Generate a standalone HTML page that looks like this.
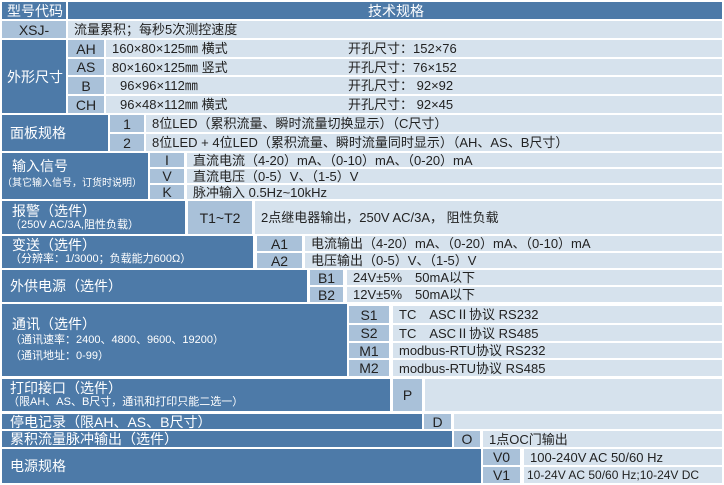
<!DOCTYPE html>
<html><head><meta charset="utf-8"><style>
body{margin:0;width:724px;height:485px;background:#fff;position:relative;overflow:hidden;font-family:"Liberation Sans","Noto Sans CJK SC",sans-serif;font-size:13px;}
div{position:absolute;box-sizing:border-box;white-space:nowrap;line-height:1;}
.d{background:#4d7aa8;color:#fff;}
.c{background:#a9c1d9;color:#222;text-align:center;font-size:14px;display:flex;align-items:center;justify-content:center;}
.t{background:#d6e2ed;color:#222;display:flex;align-items:center;padding-left:6px;}
.dl{display:flex;align-items:center;padding-left:8px;}
.s{font-size:11px;}
</style></head><body>
<div class="d dl" style="left:2px;top:2px;width:64px;height:17px;font-size:14px;padding-left:5px">型号代码</div>
<div class="d" style="left:68px;top:2px;width:654px;height:17px;font-size:14px;padding:2px 0 0 300px">技术规格</div>
<div class="c" style="left:2px;top:21px;width:64px;height:17px">XSJ-</div>
<div class="t" style="left:68px;top:21px;width:654px;height:17px">流量累积；每秒5次测控速度</div>

<div class="d dl" style="left:2px;top:40px;width:64px;height:73px;font-size:14px;padding-left:5px">外形尺寸</div>
<div class="c" style="left:68px;top:40px;width:36px;height:17px">AH</div>
<div class="t" style="left:106px;top:40px;width:616px;height:17px">160×80×125㎜ 横式<span style="position:absolute;left:242px">开孔尺寸：152×76</span></div>
<div class="c" style="left:68px;top:59px;width:36px;height:16px">AS</div>
<div class="t" style="left:106px;top:59px;width:616px;height:16px">80×160×125㎜ 竖式<span style="position:absolute;left:242px">开孔尺寸：76×152</span></div>
<div class="c" style="left:68px;top:77px;width:36px;height:17px">B</div>
<div class="t" style="left:106px;top:77px;width:616px;height:17px;padding-left:14px">96×96×112㎜<span style="position:absolute;left:242px">开孔尺寸： 92×92</span></div>
<div class="c" style="left:68px;top:96px;width:36px;height:17px">CH</div>
<div class="t" style="left:106px;top:96px;width:616px;height:17px;padding-left:14px">96×48×112㎜ 横式<span style="position:absolute;left:242px">开孔尺寸： 92×45</span></div>

<div class="d dl" style="left:2px;top:115px;width:106px;height:36px;font-size:14px">面板规格</div>
<div class="c" style="left:110px;top:115px;width:34px;height:17px">1</div>
<div class="t" style="left:146px;top:115px;width:576px;height:17px">8位LED（累积流量、瞬时流量切换显示）（C尺寸）</div>
<div class="c" style="left:110px;top:134px;width:34px;height:17px">2</div>
<div class="t" style="left:146px;top:134px;width:576px;height:17px">8位LED + 4位LED（累积流量、瞬时流量同时显示）（AH、AS、B尺寸）</div>

<div class="d" style="left:2px;top:153px;width:146px;height:46px;padding:6px 0 0 10px"><span style="font-size:14px">输入信号</span><br><span style="position:absolute;left:0;top:26px;font-size:10px">（其它输入信号，订货时说明）</span></div>
<div class="c" style="left:150px;top:153px;width:34px;height:14px">I</div>
<div class="t" style="left:187px;top:153px;width:535px;height:14px">直流电流（4-20）mA、（0-10）mA、（0-20）mA</div>
<div class="c" style="left:150px;top:169px;width:34px;height:14px">V</div>
<div class="t" style="left:187px;top:169px;width:535px;height:14px">直流电压（0-5）V、（1-5）V</div>
<div class="c" style="left:150px;top:185px;width:34px;height:14px">K</div>
<div class="t" style="left:187px;top:185px;width:535px;height:14px">脉冲输入 0.5Hz~10kHz</div>

<div class="d" style="left:2px;top:201px;width:183px;height:33px;padding:3px 0 0 10px"><span style="font-size:14px">报警（选件）</span><br><span class="s" style="position:absolute;left:8px;top:19px">（250V AC/3A,阻性负载）</span></div>
<div class="c" style="left:188px;top:201px;width:64px;height:33px">T1~T2</div>
<div class="t" style="left:255px;top:201px;width:467px;height:33px">2点继电器输出，250V AC/3A， 阻性负载</div>

<div class="d" style="left:2px;top:236px;width:251px;height:32px;padding:2px 0 0 10px"><span style="font-size:14px">变送（选件）</span><br><span class="s" style="position:absolute;left:8px;top:18px">（分辨率：1/3000；负载能力600Ω）</span></div>
<div class="c" style="left:257px;top:236px;width:45px;height:15px">A1</div>
<div class="t" style="left:305px;top:236px;width:417px;height:15px">电流输出（4-20）mA、（0-20）mA、（0-10）mA</div>
<div class="c" style="left:257px;top:253px;width:45px;height:15px">A2</div>
<div class="t" style="left:305px;top:253px;width:417px;height:15px">电压输出（0-5）V、（1-5）V</div>

<div class="d dl" style="left:2px;top:270px;width:305px;height:32px;font-size:14px">外供电源（选件）</div>
<div class="c" style="left:310px;top:270px;width:33px;height:15px">B1</div>
<div class="t" style="left:347px;top:270px;width:375px;height:15px">24V±5%　50mA以下</div>
<div class="c" style="left:310px;top:287px;width:33px;height:15px">B2</div>
<div class="t" style="left:347px;top:287px;width:375px;height:15px">12V±5%　50mA以下</div>

<div class="d" style="left:2px;top:304px;width:345px;height:72px;padding:13px 0 0 10px"><span style="font-size:14px">通讯（选件）</span><span class="s" style="position:absolute;left:8px;top:31px">（通讯速率：2400、4800、9600、19200）</span><span class="s" style="position:absolute;left:8px;top:47px">（通讯地址：0-99）</span></div>
<div class="c" style="left:349px;top:306px;width:40px;height:17px">S1</div>
<div class="t" style="left:393px;top:306px;width:329px;height:17px">TC　ASCⅡ协议 RS232</div>
<div class="c" style="left:349px;top:325px;width:40px;height:16px">S2</div>
<div class="t" style="left:393px;top:325px;width:329px;height:16px">TC　ASCⅡ协议 RS485</div>
<div class="c" style="left:349px;top:343px;width:40px;height:15px">M1</div>
<div class="t" style="left:393px;top:343px;width:329px;height:15px">modbus-RTU协议 RS232</div>
<div class="c" style="left:349px;top:360px;width:40px;height:16px">M2</div>
<div class="t" style="left:393px;top:360px;width:329px;height:16px">modbus-RTU协议 RS485</div>

<div class="d" style="left:2px;top:379px;width:388px;height:32px;padding:2px 0 0 8px"><span style="font-size:14px">打印接口（选件）</span><span class="s" style="position:absolute;left:6px;top:18px">（限AH、AS、B尺寸，通讯和打印只能二选一）</span></div>
<div class="c" style="left:393px;top:379px;width:29px;height:32px">P</div>
<div class="t" style="left:425px;top:379px;width:297px;height:32px"></div>

<div class="d dl" style="left:2px;top:414px;width:420px;height:15px;font-size:14px">停电记录（限AH、AS、B尺寸）</div>
<div class="c" style="left:424px;top:414px;width:27px;height:15px">D</div>
<div class="t" style="left:454px;top:414px;width:268px;height:15px"></div>

<div class="d dl" style="left:2px;top:431px;width:450px;height:16px;font-size:14px">累积流量脉冲输出（选件）</div>
<div class="c" style="left:454px;top:431px;width:26px;height:16px">O</div>
<div class="t" style="left:483px;top:431px;width:239px;height:16px">1点OC门输出</div>

<div class="d dl" style="left:2px;top:449px;width:479px;height:34px;font-size:14px">电源规格</div>
<div class="c" style="left:483px;top:449px;width:37px;height:16px">V0</div>
<div class="t" style="left:524px;top:449px;width:198px;height:16px">100-240V AC 50/60 Hz</div>
<div class="c" style="left:483px;top:467px;width:37px;height:16px">V1</div>
<div class="t" style="left:524px;top:467px;width:198px;height:16px;padding-left:3px;font-size:12px">10-24V AC 50/60 Hz;10-24V DC</div>
</body></html>
